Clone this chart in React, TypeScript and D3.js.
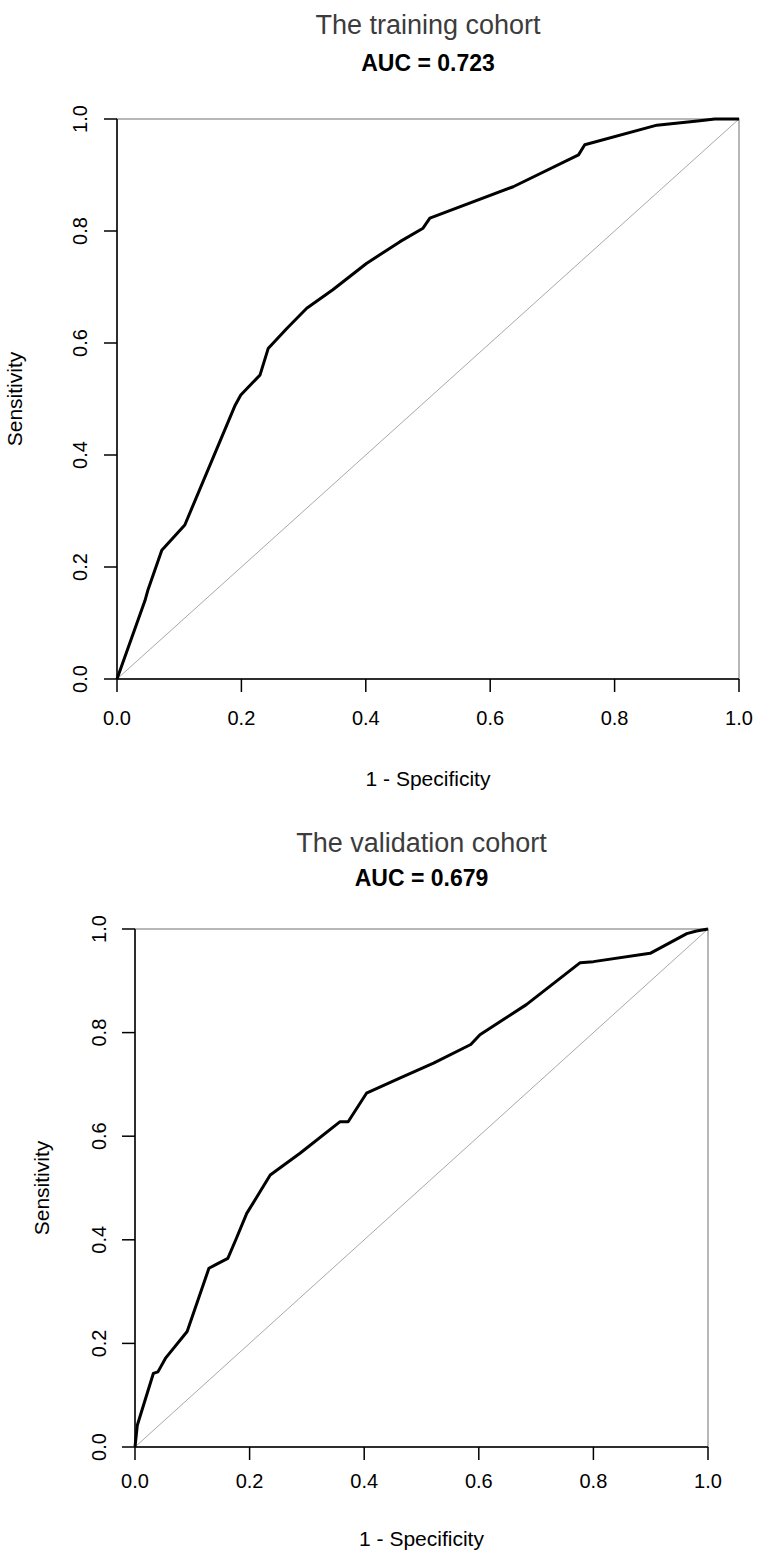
import React from "react";
import * as d3 from "d3";

// ROC points (1 - specificity, sensitivity)
const trainFpr = [0, 0.045, 0.05, 0.072, 0.109, 0.19, 0.199, 0.23, 0.243, 0.273, 0.305, 0.347, 0.401, 0.455, 0.492, 0.503, 0.637, 0.742, 0.752, 0.868, 0.937, 0.961, 1];
const trainTpr = [0, 0.14, 0.16, 0.23, 0.275, 0.489, 0.507, 0.543, 0.59, 0.626, 0.662, 0.695, 0.742, 0.781, 0.805, 0.823, 0.879, 0.936, 0.954, 0.989, 0.997, 1, 1];

const validFpr = [0, 0.004, 0.032, 0.04, 0.053, 0.091, 0.129, 0.141, 0.162, 0.177, 0.195, 0.236, 0.288, 0.358, 0.372, 0.404, 0.462, 0.521, 0.586, 0.602, 0.683, 0.777, 0.8, 0.899, 0.963, 0.98, 1];
const validTpr = [0, 0.042, 0.142, 0.145, 0.171, 0.223, 0.345, 0.352, 0.364, 0.403, 0.451, 0.525, 0.567, 0.628, 0.628, 0.683, 0.712, 0.741, 0.777, 0.796, 0.854, 0.935, 0.937, 0.953, 0.991, 0.996, 1];

const tickValues = [0, 0.2, 0.4, 0.6, 0.8, 1.0];
const titles = ["The training cohort", "The validation cohort"];
const aucLabels = ["AUC = 0.723", "AUC = 0.679"];

const font = "'Liberation Sans', Arial, sans-serif";

type Box = {
  left: number;
  right: number;
  top: number;
  bottom: number;
  yTickX: number;
  xTickY: number;
  xLabelY: number;
  yLabelX: number;
  titleY: number;
  aucY: number;
};

const RocPanel = ({ box, fpr, tpr, title, auc }: { box: Box; fpr: number[]; tpr: number[]; title: string; auc: string }) => {
  const x = d3.scaleLinear().domain([0, 1]).range([box.left, box.right]);
  const y = d3.scaleLinear().domain([0, 1]).range([box.bottom, box.top]);
  const pts = fpr.map((f, i) => [f, tpr[i]] as [number, number]);
  const line = d3
    .line<[number, number]>()
    .x((d) => x(d[0]))
    .y((d) => y(d[1]));
  const tickLen = 13;
  const cx = (box.left + box.right) / 2;
  const cy = (box.top + box.bottom) / 2;

  return (
    <g fontFamily={font}>
      {/* titles */}
      <text x={cx} y={box.titleY} textAnchor="middle" dominantBaseline="central" fontSize={27} fill="#3c3c3c">
        {title}
      </text>
      <text x={cx} y={box.aucY} textAnchor="middle" dominantBaseline="central" fontSize={23} fontWeight="bold" fill="#000">
        {auc}
      </text>

      {/* frame */}
      <rect x={box.left} y={box.top} width={box.right - box.left} height={box.bottom - box.top} fill="none" stroke="#a0a0a0" strokeWidth={1.5} />

      {/* chance line */}
      <path d={line([[0, 0], [1, 1]]) || ""} stroke="#a8a8a8" strokeWidth={1} fill="none" />

      {/* roc curve */}
      <path d={line(pts) || ""} stroke="#000" strokeWidth={3} fill="none" strokeLinejoin="round" />

      {/* axes */}
      <line x1={box.left} x2={box.left} y1={y(0)} y2={y(1)} stroke="#000" strokeWidth={1.5} />
      <line x1={x(0)} x2={x(1)} y1={box.bottom} y2={box.bottom} stroke="#000" strokeWidth={1.5} />
      {tickValues.map((t) => (
        <g key={"x" + t}>
          <line x1={x(t)} x2={x(t)} y1={box.bottom} y2={box.bottom + tickLen} stroke="#000" strokeWidth={1.5} />
          <text x={x(t)} y={box.xTickY} textAnchor="middle" dominantBaseline="central" fontSize={20} fill="#000">
            {t.toFixed(1)}
          </text>
        </g>
      ))}
      {tickValues.map((t) => (
        <g key={"y" + t}>
          <line x1={box.left - tickLen} x2={box.left} y1={y(t)} y2={y(t)} stroke="#000" strokeWidth={1.5} />
          <text
            transform={`translate(${box.yTickX},${y(t)}) rotate(-90)`}
            textAnchor="middle"
            dominantBaseline="central"
            fontSize={20}
            fill="#000"
          >
            {t.toFixed(1)}
          </text>
        </g>
      ))}

      {/* axis labels */}
      <text x={cx} y={box.xLabelY} textAnchor="middle" dominantBaseline="central" fontSize={21} fill="#000">
        1 - Specificity
      </text>
      <text
        transform={`translate(${box.yLabelX},${cy}) rotate(-90)`}
        textAnchor="middle"
        dominantBaseline="central"
        fontSize={21}
        fill="#000"
      >
        Sensitivity
      </text>
    </g>
  );
};

const topBox: Box = {
  left: 117,
  right: 739,
  top: 119,
  bottom: 679,
  yTickX: 80,
  xTickY: 718,
  xLabelY: 778,
  yLabelX: 14,
  titleY: 24.5,
  aucY: 62.5,
};

const bottomBox: Box = {
  left: 135,
  right: 708,
  top: 929,
  bottom: 1447,
  yTickX: 99,
  xTickY: 1481,
  xLabelY: 1538,
  yLabelX: 41,
  titleY: 843,
  aucY: 878,
};

export default function App() {
  return (
    <svg width={758} height={1554} style={{ position: "absolute", left: 0, top: 0, background: "#fff" }}>
      <rect width={758} height={1554} fill="#fff" />
      <RocPanel box={topBox} fpr={trainFpr} tpr={trainTpr} title={titles[0]} auc={aucLabels[0]} />
      <RocPanel box={bottomBox} fpr={validFpr} tpr={validTpr} title={titles[1]} auc={aucLabels[1]} />
    </svg>
  );
}
